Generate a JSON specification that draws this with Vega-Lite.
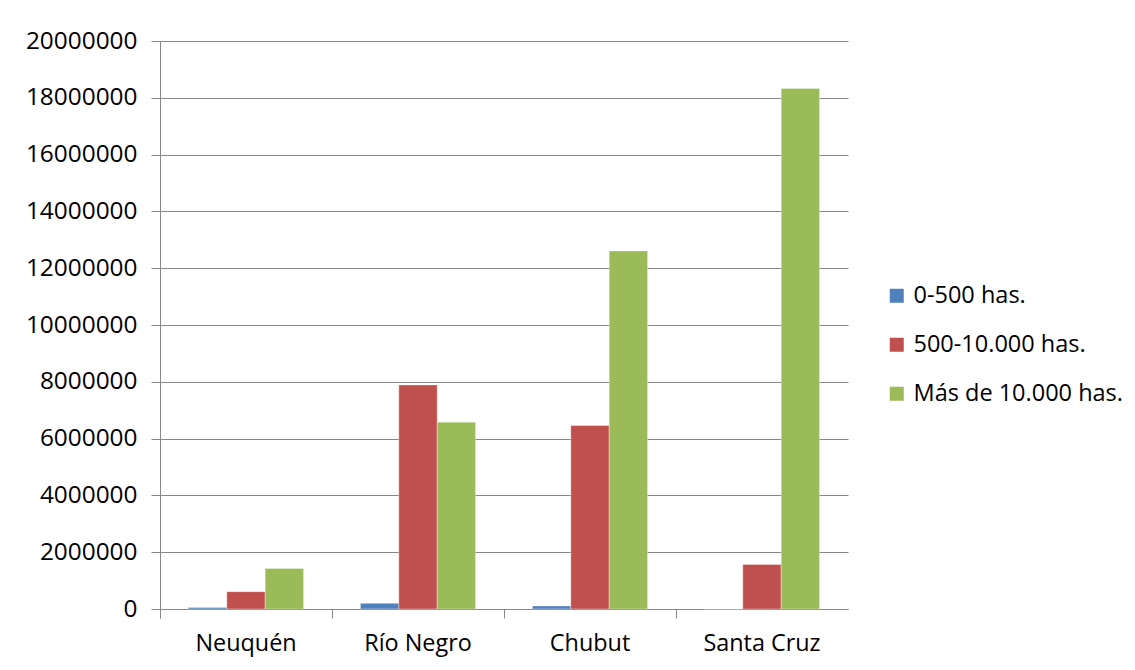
{
  "$schema": "https://vega.github.io/schema/vega-lite/v6.json",
  "width": 688,
  "height": 568,
  "autosize": {"type": "none"},
  "padding": {"left": 160, "top": 41, "right": 287, "bottom": 61},
  "background": "white",
  "config": {
    "font": "Open Sans",
    "view": {"stroke": null},
    "axis": {
      "labelFont": "Open Sans",
      "labelColor": "#000000",
      "domainColor": "#868686",
      "tickColor": "#868686",
      "gridColor": "#868686",
      "gridOpacity": 1,
      "title": null
    },
    "legend": {
      "labelFont": "Open Sans",
      "labelFontSize": 23.5,
      "labelColor": "#000000",
      "labelLimit": 400
    }
  },
  "data": {
    "values": [
      {"provincia": "Neuquén", "estrato": "0-500 has.", "superficie": 50000},
      {"provincia": "Neuquén", "estrato": "500-10.000 has.", "superficie": 610000},
      {"provincia": "Neuquén", "estrato": "Más de 10.000 has.", "superficie": 1430000},
      {"provincia": "Río Negro", "estrato": "0-500 has.", "superficie": 200000},
      {"provincia": "Río Negro", "estrato": "500-10.000 has.", "superficie": 7890000},
      {"provincia": "Río Negro", "estrato": "Más de 10.000 has.", "superficie": 6580000},
      {"provincia": "Chubut", "estrato": "0-500 has.", "superficie": 105000},
      {"provincia": "Chubut", "estrato": "500-10.000 has.", "superficie": 6460000},
      {"provincia": "Chubut", "estrato": "Más de 10.000 has.", "superficie": 12610000},
      {"provincia": "Santa Cruz", "estrato": "0-500 has.", "superficie": 0},
      {"provincia": "Santa Cruz", "estrato": "500-10.000 has.", "superficie": 1570000},
      {"provincia": "Santa Cruz", "estrato": "Más de 10.000 has.", "superficie": 18330000}
    ]
  },
  "mark": {"type": "bar", "stroke": "#ffffff", "strokeWidth": 0.6, "strokeOpacity": 0.6},
  "encoding": {
    "x": {
      "field": "provincia",
      "type": "nominal",
      "sort": null,
      "scale": {"paddingInner": 0, "paddingOuter": 0},
      "axis": {
        "labelAngle": 0,
        "labelFontSize": 23.4,
        "bandPosition": 0,
        "tickExtra": true,
        "tickSize": 9,
        "labelPadding": 14,
        "grid": false,
        "domainWidth": 1
      }
    },
    "xOffset": {
      "field": "estrato",
      "type": "nominal",
      "sort": null,
      "scale": {"paddingInner": 0, "paddingOuter": 0.74}
    },
    "y": {
      "field": "superficie",
      "type": "quantitative",
      "scale": {"domain": [0, 20000000], "nice": false},
      "axis": {
        "values": [0, 2000000, 4000000, 6000000, 8000000, 10000000, 12000000, 14000000, 16000000, 18000000, 20000000],
        "format": "d",
        "labelFontSize": 24.4,
        "tickSize": 9,
        "labelPadding": 14,
        "grid": true,
        "gridWidth": 1,
        "domain": true
      }
    },
    "color": {
      "field": "estrato",
      "type": "nominal",
      "sort": null,
      "scale": {
        "domain": ["0-500 has.", "500-10.000 has.", "Más de 10.000 has."],
        "range": ["#4F81BD", "#C0504D", "#9BBB59"]
      },
      "legend": {
        "title": null,
        "orient": "none",
        "legendX": 725,
        "legendY": 243,
        "symbolType": "square",
        "symbolSize": 196,
        "symbolStrokeWidth": 0,
        "rowPadding": 24,
        "labelOffset": 5
      }
    }
  }
}
